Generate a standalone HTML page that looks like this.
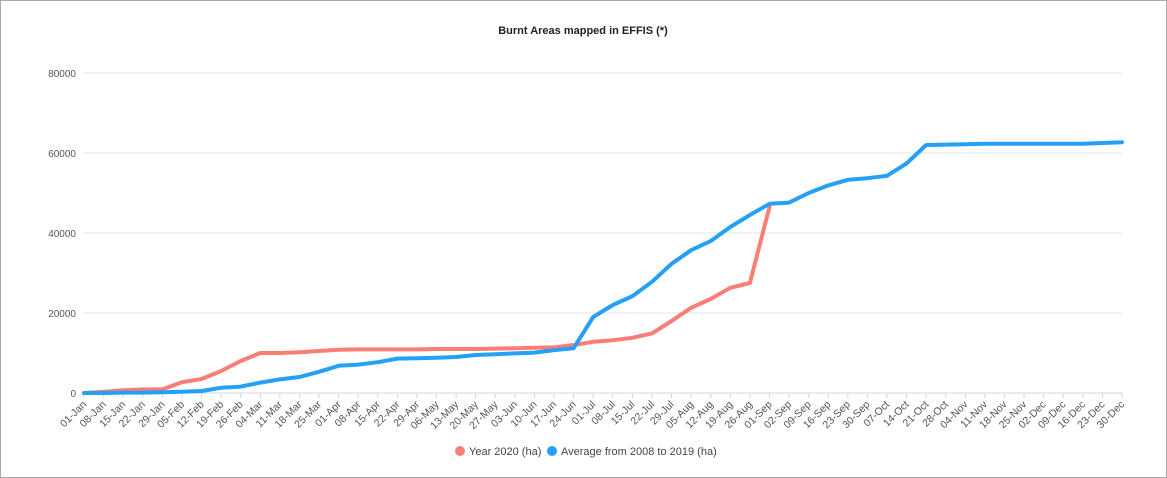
<!DOCTYPE html>
<html><head><meta charset="utf-8"><style>
html,body{margin:0;padding:0;background:#fff;}
body{width:1167px;height:478px;overflow:hidden;font-family:"Liberation Sans",Arial,sans-serif;}
#frame{position:absolute;left:0;top:0;width:1165px;height:476px;border:1px solid #a8a8a8;}
</style></head><body>
<div id="frame"></div>
<svg id="chart" width="1167" height="478" style="position:absolute;left:0;top:0">
<text x="583" y="34" text-anchor="middle" font-size="11" font-weight="bold" fill="#222">Burnt Areas mapped in EFFIS (*)</text>
<g id="grid"></g>
<g id="yaxis"></g>
<g id="xaxis"></g>
<g id="series"></g>
<g>
<g><circle cx="460" cy="451" r="5" fill="#fa7e76"/><text x="469" y="455" font-size="11" fill="#444">Year 2020 (ha)</text></g>
<g><circle cx="552" cy="451" r="5" fill="#24a0f7"/><text x="561" y="455" font-size="11" fill="#444">Average from 2008 to 2019 (ha)</text></g>
</g>
</svg>
<script>
const categories=["01-Jan","08-Jan","15-Jan","22-Jan","29-Jan","05-Feb","12-Feb","19-Feb","26-Feb","04-Mar","11-Mar","18-Mar","25-Mar","01-Apr","08-Apr","15-Apr","22-Apr","29-Apr","06-May","13-May","20-May","27-May","03-Jun","10-Jun","17-Jun","24-Jun","01-Jul","08-Jul","15-Jul","22-Jul","29-Jul","05-Aug","12-Aug","19-Aug","26-Aug","01-Sep","02-Sep","09-Sep","16-Sep","23-Sep","30-Sep","07-Oct","14-Oct","21-Oct","28-Oct","04-Nov","11-Nov","18-Nov","25-Nov","02-Dec","09-Dec","16-Dec","23-Dec","30-Dec"];
const year2020=[0,300,700,900,900,2700,3500,5500,8000,10000,10000,10200,10500,10800,10900,10900,10900,10900,11000,11000,11000,11100,11200,11300,11400,12000,12800,13200,13800,14900,18000,21300,23500,26300,27500,46500];
const average=[0,0,100,100,200,300,500,1300,1600,2600,3400,4000,5300,6800,7100,7700,8600,8700,8800,9000,9500,9700,9900,10100,10700,11200,19000,22000,24200,27800,32300,35700,38000,41500,44500,47300,47600,50000,51900,53300,53700,54300,57400,62000,62100,62200,62300,62300,62300,62300,62300,62300,62500,62700];
const yTicks=[0,20000,40000,60000,80000];
const NS="http://www.w3.org/2000/svg";
const x0=84,x1=1122,yb=393,yt=73,ymax=80000;
const xs=i=>x0+(x1-x0)*i/(categories.length-1);
const ys=v=>yb-(yb-yt)*v/ymax;
function mk(t,a,p){const e=document.createElementNS(NS,t);for(const k in a)e.setAttribute(k,a[k]);p.appendChild(e);return e;}
const grid=document.getElementById('grid'),ya=document.getElementById('yaxis'),xa=document.getElementById('xaxis'),se=document.getElementById('series');
yTicks.forEach(v=>{
 const l=mk('line',{x1:x0,x2:x1,y1:ys(v),y2:ys(v),stroke:v===0?'#ccd6eb':'#e6e6e6','stroke-width':1},grid);
 
 
 const t=mk('text',{x:76,y:ys(v)+4,'text-anchor':'end','font-size':10,fill:'#555'},ya);
 t.textContent=v;
 
 
});
categories.forEach((c,i)=>{
 const x=xs(i);
 mk('line',{x1:x,x2:x,y1:yb,y2:yb+5,stroke:'#ccd6eb'},xa);
 const t=mk('text',{x:x+3,y:yb+12,'text-anchor':'end','font-size':10.5,fill:'#555',transform:`rotate(-45 ${x+3} ${yb+12})`},xa);
 t.textContent=c;
 
 
});
function line(arr,col,name){
 const p=mk('polyline',{points:arr.map((v,i)=>xs(i)+','+ys(v)).join(' '),fill:'none',stroke:col,'stroke-width':4,'stroke-linejoin':'round','stroke-linecap':'round'},se);
 
 
}
line(year2020,'#fa7e76','series-year-2020');
line(average,'#24a0f7','series-average-2008-2019');
</script>
</body></html>
